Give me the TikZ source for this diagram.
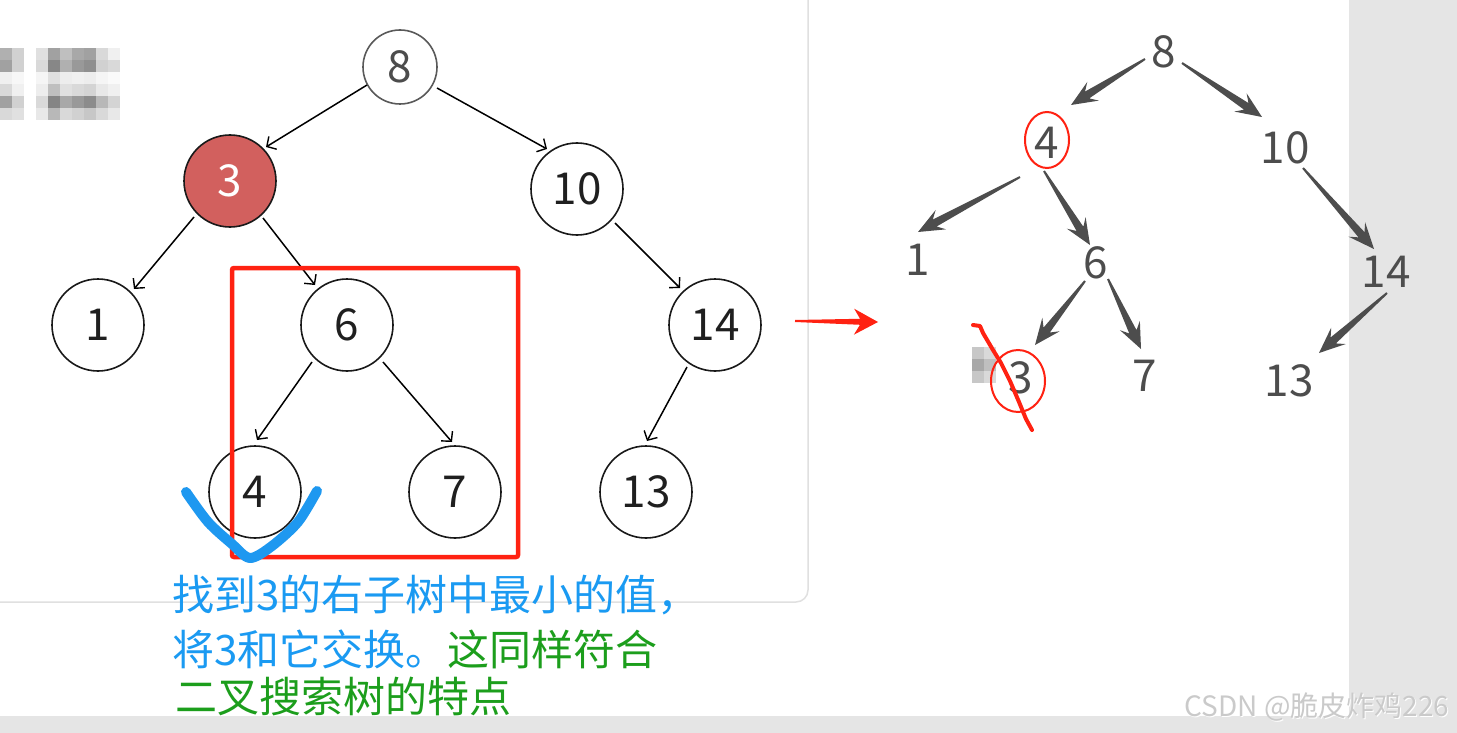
\documentclass[tikz,border=0pt]{standalone}
\usepackage{fontspec}
\setmainfont{Noto Sans CJK SC}
\usetikzlibrary{calc,arrows.meta}
\definecolor{graybg}{HTML}{E5E5E5}
\definecolor{cardline}{HTML}{E0E0E0}
\definecolor{nodered}{HTML}{D2605E}
\definecolor{boxred}{HTML}{FF2212}
\definecolor{chkblue}{HTML}{1E98F0}
\definecolor{txtblue}{HTML}{1A9AF2}
\definecolor{txtgreen}{HTML}{1C9E1C}
\definecolor{rtext}{HTML}{4D4D4D}
\definecolor{wmark}{HTML}{CACACA}
\newcommand\fatarrow[8]{%
  \path #2 coordinate (fa-s) #3 coordinate (fa-e);
  \path ($(fa-e)!#6!(fa-s)$) coordinate (fa-h) ($(fa-e)!#8!(fa-s)$) coordinate (fa-i);
  \fill[#1] ($(fa-s)!#4!90:(fa-e)$) -- ($(fa-i)!#5!90:(fa-e)$) -- ($(fa-h)!#7!90:(fa-e)$) -- (fa-e)
    -- ($(fa-h)!#7!-90:(fa-e)$) -- ($(fa-i)!#5!-90:(fa-e)$) -- ($(fa-s)!#4!-90:(fa-e)$) -- cycle;}
\tikzset{
  tnode/.style={circle,draw=black!90,line width=1.6pt,minimum size=92pt,inner sep=0pt,
    font=\fontsize{44}{44}\selectfont,text=black!88},
  tedge/.style={line width=1.5pt,black,-{Straight Barb[length=7pt,width=15pt,line width=1.4pt]}},
  rnode/.style={inner sep=0pt,font=\fontsize{44}{44}\selectfont,text=rtext},
  cjk/.style={inner sep=0pt,anchor=base west,font=\fontsize{42}{42}\selectfont},
  redmark/.style={draw=boxred,line width=2pt},
}
\begin{document}
\begin{tikzpicture}[x=1pt,y=-1pt]
\useasboundingbox (0,0) rectangle (1457,733);
\fill[white] (0,0) rectangle (1457,733);
\fill[graybg] (1349,0) rectangle (1457,733);
\fill[graybg] (0,716) rectangle (1457,733);
% card border
\draw[cardline,line width=1.5pt,rounded corners=12pt] (808,-5) -- (808,602) -- (-5,602);
% pixelated mosaic top-left
\foreach \row [count=\r] in {{31,18,0,12,37,25,34,37,15,6},{37,18,0,15,47,31,40,44,18,15},{6,3,0,4,12,7,6,7,4,2},{15,6,0,7,25,12,15,17,9,6},{37,18,0,15,48,34,40,45,28,17},{15,12,0,9,28,15,18,22,15,9}}{
  \foreach \v [count=\k] in \row {
    \fill[black!\v] ({(\k-1)*12},{36+\r*12}) rectangle ({\k*12},{48+\r*12});
  }
}
% left tree
\node[tnode,minimum size=74pt,draw=black!65,text=black!70] (l8) at (400,67) {8};
\node[tnode,fill=nodered,text=white] (l3) at (230,181) {3};
\node[tnode] (l10) at (577,189) {10};
\node[tnode] (l1) at (98,325) {1};
\node[tnode] (l6) at (347,325) {6};
\node[tnode] (l14) at (715,325) {14};
\node[tnode] (l4) at (255,492) {4};
\node[tnode] (l7) at (455,492) {7};
\node[tnode] (l13) at (646,492) {13};
\draw[tedge] ($(l8)+(-33,18)$) -- ($(l3)+(36,-34)$);
\draw[tedge] ($(l8)+(37,21)$) -- ($(l10)+(-30,-40)$);
\draw[tedge] ($(l3)+(-36,36)$) -- ($(l1)+(36,-36)$);
\draw[tedge] ($(l3)+(33,37)$) -- ($(l6)+(-32,-40)$);
\draw[tedge] ($(l10)+(38,34)$) -- ($(l14)+(-35,-37)$);
\draw[tedge] ($(l6)+(-35,37)$) -- ($(l4)+(2,-52)$);
\draw[tedge] ($(l6)+(36,37)$) -- ($(l7)+(-3,-50)$);
\draw[tedge] ($(l14)+(-28,42)$) -- ($(l13)+(1,-51)$);
% red box
\draw[boxred,line width=4.5pt,rounded corners=2pt] (232,268) rectangle (518,557);
% blue check
\draw[chkblue,line width=10pt,line cap=round,line join=round] plot[smooth] coordinates {(186,492) (208,522) (232,544) (250,558) (272,546) (298,522) (317,491)};
% text
\node[cjk,text=txtblue] (t1) at (172,610) {找到3的右子树中最小的值，};
\node[cjk] (t2) at (172,665) {\textcolor{txtblue}{将3和它交换。}\textcolor{txtgreen}{这同样符合}};
\node[cjk,text=txtgreen] (t3) at (175,712) {二叉搜索树的特点};
% middle red arrow
\fatarrow{boxred}{(795,321)}{(878,322)}{1pt}{3pt}{24pt}{13pt}{18pt}
% right tree
\node[rnode] (r8) at (1164,52) {8};
\node[rnode] (r4) at (1047,143) {4};
\node[rnode] (r10) at (1285,148) {10};
\node[rnode] (r1) at (918,260) {1};
\node[rnode] (r6) at (1096,263) {6};
\node[rnode] (r14) at (1386,272) {14};
\node[rnode] (r7) at (1145,376) {7};
\node[rnode] (r13) at (1289,381) {13};
% mosaic near 3
\fill[black!22] (972,347) rectangle (984,359);
\fill[black!15] (984,347) rectangle (996,359);
\fill[black!34] (972,359) rectangle (984,371);
\fill[black!25] (984,359) rectangle (996,371);
\fill[black!22] (972,371) rectangle (984,383);
\fill[black!15] (984,371) rectangle (996,383);
\node[rnode] (r3) at (1021,378) {3};
\fatarrow{rtext}{($(r8)+(-19,7)$)}{($(r4)+(24,-38)$)}{1pt}{4pt}{26pt}{11pt}{19pt}
\fatarrow{rtext}{($(r8)+(18,11)$)}{($(r10)+(-23,-31)$)}{1pt}{4pt}{26pt}{11pt}{19pt}
\fatarrow{rtext}{($(r4)+(-27,34)$)}{($(r1)+(0,-28)$)}{1pt}{4pt}{26pt}{11pt}{19pt}
\fatarrow{rtext}{($(r4)+(-3,28)$)}{($(r6)+(-6,-18)$)}{1pt}{4pt}{26pt}{11pt}{19pt}
\fatarrow{rtext}{($(r10)+(18,20)$)}{($(r14)+(-12,-23)$)}{1pt}{4pt}{26pt}{11pt}{19pt}
\fatarrow{rtext}{($(r6)+(-11,18)$)}{($(r3)+(14,-33)$)}{1pt}{4pt}{26pt}{11pt}{19pt}
\fatarrow{rtext}{($(r6)+(12,16)$)}{($(r7)+(-4,-27)$)}{1pt}{4pt}{26pt}{11pt}{19pt}
\fatarrow{rtext}{($(r14)+(1,21)$)}{($(r13)+(30,-28)$)}{1pt}{4pt}{26pt}{11pt}{19pt}
% red marks
\draw[redmark] (1047,140) ellipse [x radius=22, y radius=28];
\draw[redmark] (1018,381) ellipse [x radius=27, y radius=31];
\draw[boxred,line width=4pt,line cap=round,line join=round] (973,325) -- (980,326) -- (983,333)
  -- (993,350) -- (1001,363) -- (1010,381) -- (1019,402) -- (1026,419) -- (1032,430);
% watermark
\node[inner sep=0pt,font=\fontsize{28}{28}\selectfont,text=white] at (1318,708) {CSDN @脆皮炸鸡226};
\node[inner sep=0pt,font=\fontsize{28}{28}\selectfont,text=wmark] (wm) at (1317,707) {CSDN @脆皮炸鸡226};
\end{tikzpicture}
\end{document}
